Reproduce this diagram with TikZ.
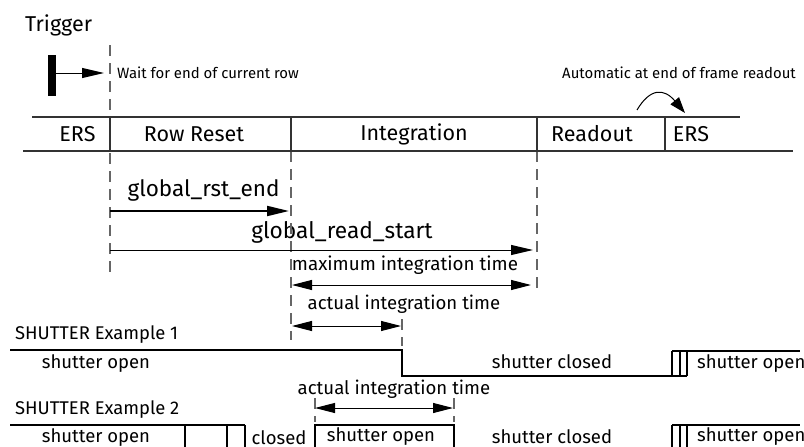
\documentclass[tikz,border=0pt]{standalone}
\usepackage{fontspec}
\setmainfont{Fira Sans}
\usetikzlibrary{arrows.meta}
\begin{document}
\begin{tikzpicture}[x=1pt,y=-1pt,
  txt/.style={inner sep=0pt, font=\fontsize{#1}{#1}\selectfont},
  txt/.default=18,
  tline/.style={draw=black!80, line width=1.3pt},
  wave/.style={draw=black, line width=1.1pt},
  dsh/.style={draw=black!60, line width=1.2pt, dash pattern=on 11pt off 7pt},
  bigarr/.style={-{Triangle[length=22pt,width=10pt]}},
  dblarr/.style={{Triangle[length=20pt,width=10pt]}-{Triangle[length=20pt,width=10pt]}},
]
\useasboundingbox (0,0) rectangle (804,447);

% ---------- texts ----------
\node[txt=21.5, anchor=west] (trig) at (25,25) {Trigger};
\node[txt=14.9, anchor=west] (wait) at (117,73) {Wait for end of current row};
\node[txt=14.9, anchor=east] (auto) at (796,73) {Automatic at end of frame readout};

\node[txt=21.5] (ers1) at (77.5,134) {ERS};
\node[txt=21.5] (rr) at (194,134) {Row Reset};
\node[txt=21.5] (integ) at (414,134) {Integration};
\node[txt=21.5] (ro) at (592,134) {Readout};
\node[txt=21.5] (ers2) at (691,134) {ERS};

\node[txt=22.5] (gre) at (203.5,190) {global\_rst\_end};
\node[txt=22.7] (grs) at (342,232) {global\_read\_start};
\node[txt=18.8] (mit) at (405,265) {maximum integration time};
\node[txt=18.6] (ait1) at (404,304) {actual integration time};
\node[txt=18.4, anchor=west] (ex1) at (15,335) {SHUTTER Example 1};
\node[txt=18.5] (so1) at (96,364) {shutter open};
\node[txt=18.5] (sc1) at (552,362) {shutter closed};
\node[txt=18.5, anchor=west] (so1b) at (697,364) {shutter open};
\node[txt=18.6] (ait2) at (394,389) {actual integration time};
\node[txt=18.4, anchor=west] (ex2) at (15,410) {SHUTTER Example 2};
\node[txt=18.5] (so2) at (96,438) {shutter open};
\node[txt=18.5] (cl2) at (279,438) {closed};
\node[txt=18.5] (so2m) at (381,437) {shutter open};
\node[txt=18.5] (sc2) at (552,437) {shutter closed};
\node[txt=18.5, anchor=west] (so2b) at (697,437) {shutter open};

% ---------- trigger ----------
\node[fill=black, minimum width=8pt, minimum height=41pt, inner sep=0pt] (bar) at (52,75.5) {};
\coordinate (trigEnd) at (104,73);
\draw[bigarr, line width=1pt] (bar.east |- trigEnd) -- (trigEnd);

% ---------- dashed guide lines ----------
\coordinate (d1t) at (110,45);  \coordinate (d1b) at (110,278);
\coordinate (d2t) at (291,151); \coordinate (d2b) at (291,340);
\coordinate (d3t) at (537,151); \coordinate (d3b) at (537,293);
\coordinate (d4t) at (402,319); \coordinate (d4b) at (402,346);
\coordinate (d5t) at (315,398); \coordinate (d5b) at (315,422);
\coordinate (d6t) at (454,398); \coordinate (d6b) at (454,422);
\foreach \i in {1,...,6} \draw[dsh] (d\i t) -- (d\i b);

% ---------- state table ----------
\coordinate (tTL) at (32,117);  \coordinate (tTR) at (740,117);
\coordinate (tBL) at (23,151);  \coordinate (tBR) at (793,151);
\draw[tline] (tTL) -- (tTR);
\draw[tline] (tBL) -- (tBR);
\foreach \x in {110,291,537,665}
  \draw[tline] (\x,117) -- (\x,151);

% curved arrow
\coordinate (cs) at (637,110);
\coordinate (ce) at (685,113);
\draw[line width=1pt, -{Triangle[length=16pt,width=11pt]}] (cs) .. controls (650,88) and (664,88) .. (ce);

% ---------- timing arrows ----------
\coordinate (a1s) at (110,211); \coordinate (a1e) at (289,211);
\draw[bigarr, line width=2pt] (a1s) -- (a1e);
\coordinate (a2s) at (110,250); \coordinate (a2e) at (533,250);
\draw[bigarr, line width=1pt] (a2s) -- (a2e);
\coordinate (a3s) at (292,285); \coordinate (a3e) at (531,285);
\draw[dblarr, line width=1pt] (a3s) -- (a3e);
\coordinate (a4s) at (292,326); \coordinate (a4e) at (401,326);
\draw[dblarr, line width=1pt] (a4s) -- (a4e);
\coordinate (a5s) at (315,408); \coordinate (a5e) at (453,408);
\draw[dblarr, line width=1pt] (a5s) -- (a5e);

% ---------- shutter example 1 ----------
\draw[wave] (10,350) -- (402,350) -- (402,376) -- (687,376);
\foreach \x in {672,680,687} \draw[wave] (\x,351) -- (\x,376);
\draw[wave] (672,351) -- (800,351);

% ---------- shutter example 2 ----------
\draw[wave] (10,425) -- (245,425);
\foreach \x in {185,227,245} \draw[wave] (\x,425) -- (\x,448);
\draw[wave] (315,448) -- (315,425) -- (454,425) -- (454,448);
\foreach \x in {672,680,687} \draw[wave] (\x,425) -- (\x,448);
\draw[wave] (672,425) -- (800,425);
\end{tikzpicture}
\end{document}
